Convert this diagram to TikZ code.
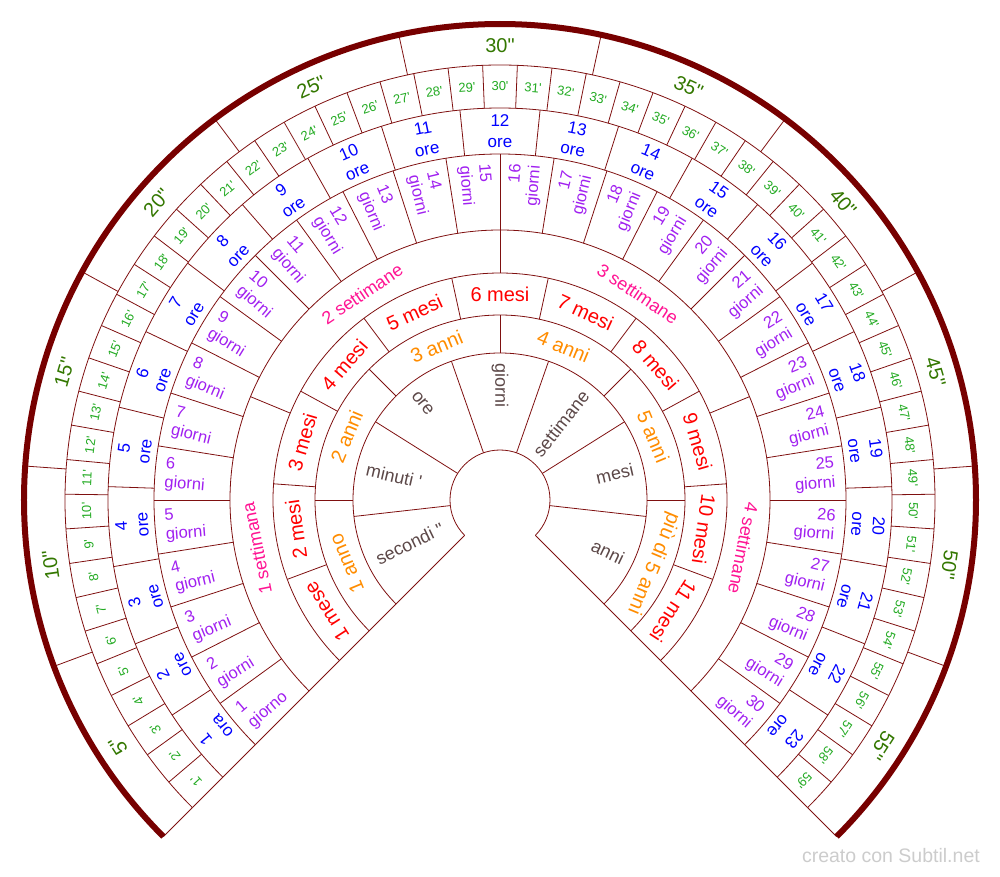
\documentclass[tikz,border=0pt]{standalone}
\usepackage{fontspec}
\setmainfont{Liberation Sans}[Ligatures=TeXOff]
\usetikzlibrary{calc}
\definecolor{linecol}{HTML}{7F1010}
\definecolor{rimcol}{HTML}{770000}
\definecolor{unitcol}{HTML}{5C4848}
\definecolor{annicol}{HTML}{FF8C00}
\definecolor{mesicol}{HTML}{FF0000}
\definecolor{settcol}{HTML}{FF1493}
\definecolor{giornicol}{HTML}{A020F0}
\definecolor{orecol}{HTML}{0000FF}
\definecolor{mincol}{HTML}{22AA22}
\definecolor{seccol}{HTML}{337700}
\definecolor{markcol}{HTML}{CCCCCC}

% radial label, read from the outer edge: name, angle, radius, style, text
\newcommand{\radlab}[5]{%
	\pgfmathtruncatemacro\lft{#2>=89.9}%
	\ifnum\lft=1
		\node[#4, rotate=#2+180, anchor=west, align=left] (#1) at (#2:#3) {#5};
	\else
		\node[#4, rotate=#2, anchor=east, align=right] (#1) at (#2:#3) {#5};
	\fi}

\begin{document}
\begin{tikzpicture}[
	x=1pt, y=1pt,
	divider/.style={draw=linecol, line width=0.8pt},
	rim/.style={draw=rimcol, line width=6pt},
	unitlab/.style={text=unitcol, inner sep=0pt, font=\fontsize{18}{21}\selectfont},
	annilab/.style={text=annicol, font=\fontsize{20}{22}\selectfont},
	mesilab/.style={text=mesicol, font=\fontsize{20}{22}\selectfont},
	settlab/.style={text=settcol, font=\fontsize{18}{20}\selectfont},
	giornilab/.style={text=giornicol, inner sep=0pt, font=\fontsize{16.5}{19}\selectfont},
	orelab/.style={text=orecol, align=center, font=\fontsize{17}{21}\selectfont},
	minlab/.style={text=mincol, font=\fontsize{13}{14}\selectfont},
	seclab/.style={text=seccol, font=\fontsize{20}{22}\selectfont}
	]
	
	\useasboundingbox (-500,-376) rectangle (500,500);
	
	% --- Rings: inner radius / outer radius / sectors ---
	\foreach \ri/\ro/\n in {50/147/7, 147/185/6, 185/227/11, 227/270/4, 270/346/30, 346/392/23, 392/435/59, 435/476/11} {
		\draw[divider] (225:\ri) arc[start angle=225, end angle=-45, radius=\ri];
		\foreach \k in {0,...,\n}
			\draw[divider] ({225-\k*270/\n}:\ri) -- ({225-\k*270/\n}:\ro);
	}
	\draw[rim] (225:476) arc[start angle=225, end angle=-45, radius=476];
	
	% Units
	\foreach \lab [count=\k] in {secondi ", minuti ', ore, giorni, settimane, mesi, anni} {
		\pgfmathsetmacro\a{225-(\k-0.5)*270/7}
		\radlab{unit\k}{\a}{137}{unitlab}{\lab}
	}
	
	% Years
	\foreach \lab [count=\k] in {1 anno, 2 anni, 3 anni, 4 anni, 5 anni, più di 5 anni} {
		\pgfmathsetmacro\a{225-(\k-0.5)*45}
		\node[annilab, rotate=\a-90] (anni\k) at (\a:166) {\lab};
	}
	
	% Months
	\foreach \k in {1,...,11} {
		\pgfmathsetmacro\a{225-(\k-0.5)*270/11}
		\ifnum\k=1 \def\u{mese}\else\def\u{mesi}\fi
		\node[mesilab, rotate=\a-90] (mese\k) at (\a:206) {\k\ \u};
	}
	
	% Weeks
	\foreach \lab [count=\k] in {1 settimana, 2 settimane, 3 settimane, 4 settimane} {
		\pgfmathsetmacro\a{225-(\k-0.5)*67.5}
		\node[settlab, rotate=\a-90] (sett\k) at (\a:248) {\lab};
	}
	
	% Days
	\foreach \k in {1,...,30} {
		\pgfmathsetmacro\a{225-(\k-0.5)*9}
		\ifnum\k=1 \def\u{giorno}\else\def\u{giorni}\fi
		\radlab{g\k}{\a}{336}{giornilab}{\k\\\u}
	}
	
	% Hours
	\foreach \k in {1,...,23} {
		\pgfmathsetmacro\a{225-(\k-0.5)*270/23}
		\ifnum\k=1 \def\u{ora}\else\def\u{ore}\fi
		\node[orelab, rotate=\a-90] (ora\k) at (\a:369) {\k\\\u};
	}
	
	% Minutes
	\foreach \k in {1,...,59} {
		\pgfmathsetmacro\a{225-(\k-0.5)*270/59}
		\node[minlab, rotate=\a-90] (min\k) at (\a:413.5) {\k'};
	}
	
	% Seconds
	\foreach \k in {1,...,11} {
		\pgfmathsetmacro\a{225-(\k-0.5)*270/11}
		\pgfmathtruncatemacro\secs{5*\k}
		\node[seclab, rotate=\a-90] (sec\k) at (\a:454) {\secs"};
	}
	
	\node[anchor=base east, inner sep=0pt, text=markcol, font=\fontsize{19.5}{20}\selectfont] (credit) at (480,-362) {creato con Subtil.net};
\end{tikzpicture}
\end{document}
